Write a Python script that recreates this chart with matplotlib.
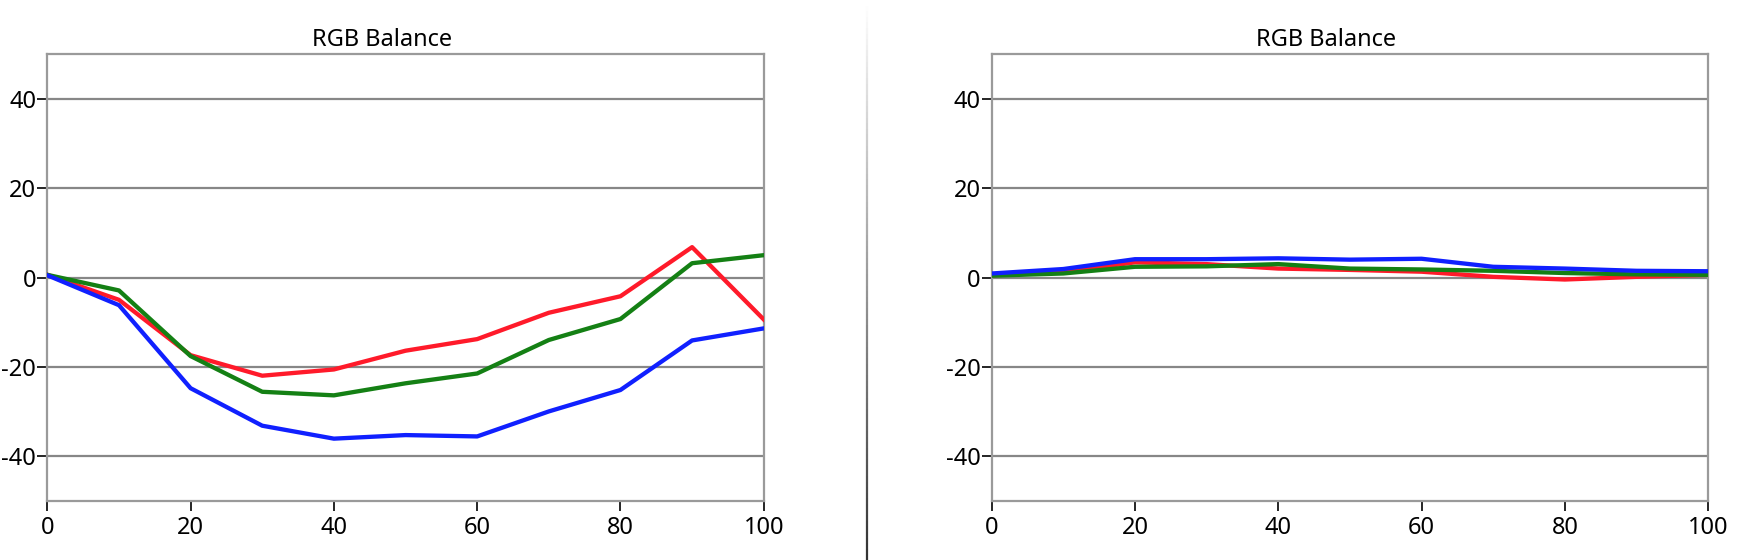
import numpy as np
import matplotlib
matplotlib.use('Agg')
import matplotlib.pyplot as plt
from matplotlib.collections import LineCollection

plt.rcParams['font.family'] = ['Noto Sans', 'DejaVu Sans']
plt.rcParams['axes.unicode_minus'] = False

# значения по шкале 0..100
x = [0, 10, 20, 30, 40, 50, 60, 70, 80, 90, 100]

# левый график
red_1 = [0.6, -5.0, -17.4, -22.0, -20.6, -16.4, -13.8, -7.9, -4.2, 6.8, -9.4]
green_1 = [0.6, -2.9, -17.6, -25.6, -26.4, -23.7, -21.5, -14.0, -9.3, 3.2, 5.0]
blue_1 = [0.5, -6.2, -24.8, -33.2, -36.1, -35.3, -35.6, -30.0, -25.2, -14.1, -11.4]

# правый график
red_2 = [0.5, 1.2, 3.4, 3.0, 2.0, 1.7, 1.3, 0.15, -0.45, 0.15, 0.6]
green_2 = [0.4, 0.9, 2.4, 2.5, 3.0, 2.0, 1.8, 1.5, 1.0, 0.7, 0.6]
blue_2 = [0.9, 1.9, 4.1, 4.1, 4.3, 4.0, 4.2, 2.4, 2.0, 1.5, 1.4]

title = 'RGB Balance'
xticks = [0, 20, 40, 60, 80, 100]
yticks = [-40, -20, 0, 20, 40]

RED = '#ff1a2a'
GREEN = '#148014'
BLUE = '#1020ff'
GRID = '#878787'


def draw(ax, r, g, b):
    ax.set_xlim(0, 100)
    ax.set_ylim(-50, 50)
    ax.set_xticks(xticks)
    ax.set_yticks(yticks)
    for v in yticks:
        ax.axhline(v, color=GRID, lw=1.6, zorder=1)
    ax.plot(x, r, color=RED, lw=3.1, zorder=3)
    ax.plot(x, g, color=GREEN, lw=3.1, zorder=3)
    ax.plot(x, b, color=BLUE, lw=3.1, zorder=3)
    for s in ax.spines.values():
        s.set_color('#9a9a9a')
        s.set_linewidth(1.6)
    ax.tick_params(axis='both', direction='out', length=7, width=1.2,
                   color='black', labelsize=17, labelcolor='black')
    ax.tick_params(axis='y', pad=1)
    ax.tick_params(axis='x', pad=4)
    ax.set_title(title, fontsize=17, x=0.467, pad=6)


fig = plt.figure(figsize=(17.62, 5.60), dpi=100)
ax1 = fig.add_axes([0.02685, 0.10589, 0.4066, 0.79714])
ax2 = fig.add_axes([0.56283, 0.10589, 0.4066, 0.79714])
draw(ax1, red_1, green_1, blue_1)
draw(ax2, red_2, green_2, blue_2)

# разделитель между панелями (градиент сверху вниз)
n = 100
ys = np.linspace(1, 0, n + 1)
segs = [[(866.7 / 1762, ys[i]), (866.7 / 1762, ys[i + 1])] for i in range(n)]
shades = np.linspace(1.0, 0.2, n)
cols = [(s, s, s) for s in shades]
lc = LineCollection(segs, colors=cols, linewidths=1.6, transform=fig.transFigure)
fig.add_artist(lc)

fig.savefig('out.png', dpi=100)
